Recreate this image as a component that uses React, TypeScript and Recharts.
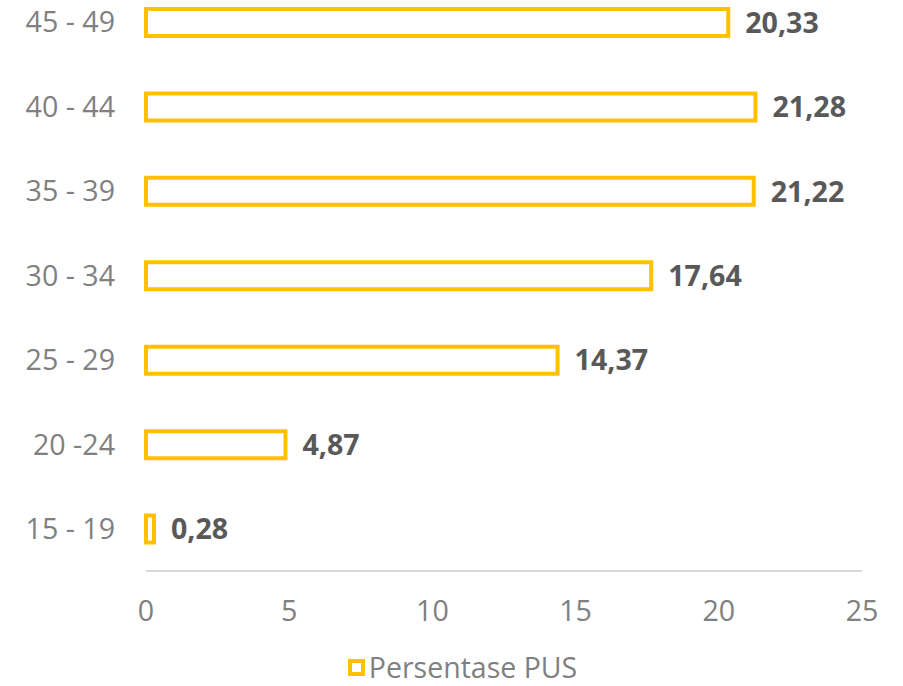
import React from 'react';
import { BarChart, Bar, XAxis, YAxis, LabelList, Legend } from 'recharts';

const categories = ['45 - 49', '40 - 44', '35 - 39', '30 - 34', '25 - 29', '20 -24', '15 - 19'];
const values = [20.33, 21.28, 21.22, 17.64, 14.37, 4.87, 0.28];
const xTicks = [0, 5, 10, 15, 20, 25];
const seriesName = 'Persentase PUS';

const data = categories.map((c, i) => ({ cat: c, value: values[i] }));

const GOLD = '#FFC000';
const FONT = '"Open Sans", sans-serif';
const FS = 28.6;

const LegendContent = () => (
  <div style={{ height: 26, display: 'flex', alignItems: 'center', justifyContent: 'center', fontFamily: FONT, paddingLeft: 22 }}>
    <span style={{ width: 9, height: 9, border: `4px solid ${GOLD}`, background: '#fff', display: 'inline-block', marginRight: 4 }} />
    <span style={{ fontSize: 28.5, lineHeight: '26px', height: 26, color: '#808080' }}>{seriesName}</span>
  </div>
);

export default function App() {
  return (
    <div style={{ position: 'absolute', left: 0, top: -20 }}>
      <BarChart
        width={903}
        height={706}
        data={data}
        layout="vertical"
        margin={{ top: 0, right: 41, bottom: 0, left: 0 }}
        barCategoryGap={0}
      >
        <XAxis
          type="number"
          domain={[0, 25]}
          ticks={xTicks}
          tickLine={false}
          tickSize={0}
          tickMargin={30}
          height={89}
          axisLine={{ stroke: '#d9d9d9', strokeWidth: 2 }}
          tick={{ fill: '#808080', fontSize: FS, fontFamily: FONT }}
        />
        <YAxis
          type="category"
          dataKey="cat"
          width={146}
          axisLine={false}
          tickLine={false}
          tickSize={0}
          tickMargin={31}
          tick={{ fill: '#808080', fontSize: FS, fontFamily: FONT }}
        />
        <Legend
          content={<LegendContent />}
          wrapperStyle={{ top: 674, left: 0, width: 903, height: 26 }}
        />
        <Bar
          dataKey="value"
          name={seriesName}
          fill="#ffffff"
          stroke={GOLD}
          strokeWidth={4}
          barSize={27}
          isAnimationActive={false}
        >
          <LabelList
            dataKey="value"
            position="right"
            offset={17}
            formatter={(v: any) => Number(v).toFixed(2).replace('.', ',')}
            style={{ fill: '#595959', fontSize: FS, fontWeight: 700, fontFamily: FONT }}
          />
        </Bar>
      </BarChart>
    </div>
  );
}
